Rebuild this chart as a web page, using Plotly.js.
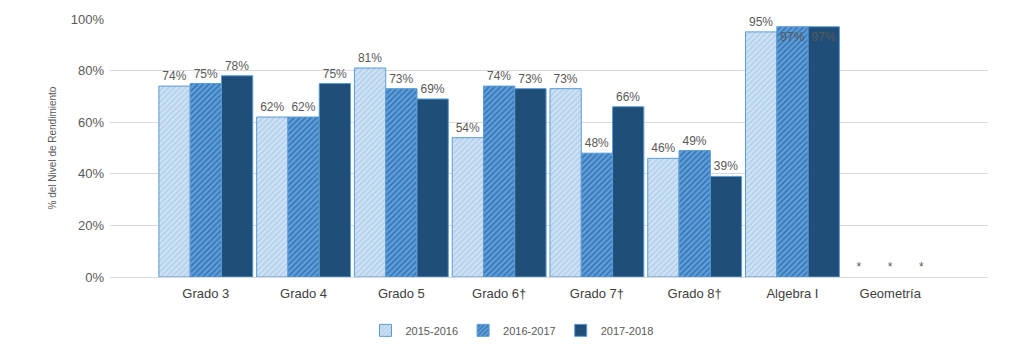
<!DOCTYPE html>
<html><head><meta charset="utf-8">
<script src="https://cdn.plot.ly/plotly-3.0.1.min.js"></script>
<style>html,body{margin:0;padding:0;background:#fff}#chart{width:1024px;height:349px}</style>
</head><body><div id="chart"></div>
<script>
const categories = ["Grado 3","Grado 4","Grado 5","Grado 6†","Grado 7†","Grado 8†","Algebra I","Geometría"];
const seriesNames = ["2015-2016","2016-2017","2017-2018"];
const v2015 = [74,62,81,54,73,46,95,0];
const v2016 = [75,62,73,74,48,49,97,0];
const v2017 = [78,75,69,73,66,39,97,0];
const lbl2015 = ["74%","62%","81%","54%","73%","46%","95%","*"];
const lbl2016 = ["75%","62%","73%","74%","48%","49%","97%","*"];
const lbl2017 = ["78%","75%","69%","73%","66%","39%","97%","*"];
const yTicks = [0,20,40,60,80,100];
const yTickText = ["0%","20%","40%","60%","80%","100%"];

function pos(vals){ return vals.map(v => v >= 97 ? "inside" : "outside"); }
function lw(vals){ return vals.map(v => v > 0 ? 1 : 0); }

const gray = "#595959";
const mk = (name, y, text, marker) => ({
  type: "bar", name, x: categories, y, text, textposition: pos(y),
  insidetextanchor: "end", constraintext: "none",
  textfont: {family: "Arial, Liberation Sans, sans-serif", size: 12, color: gray},
  outsidetextfont: {color: gray}, insidetextfont: {color: gray},
  cliponaxis: false, marker, hoverinfo: "skip"
});

const traces = [
  mk(seriesNames[0], v2015, lbl2015, {color: "#bdd7ee", line: {color: "#5b9bd5", width: lw(v2015)},
     pattern: {shape: "/", fgcolor: "#dceaf7", bgcolor: "#b8d3ee", size: 4, solidity: 0.3}}),
  mk(seriesNames[1], v2016, lbl2016, {color: "#5b9bd5", line: {color: "#5b9bd5", width: lw(v2016)},
     pattern: {shape: "/", fgcolor: "#2f6fb0", bgcolor: "#5f9ed8", size: 4, solidity: 0.35}}),
  mk(seriesNames[2], v2017, lbl2017, {color: "#1f4e79", line: {color: "#5b9bd5", width: lw(v2017)}})
];

const layout = {
  width: 1024, height: 349,
  margin: {l: 110, r: 36, t: 19, b: 72, autoexpand: false},
  paper_bgcolor: "#fff", plot_bgcolor: "#fff",
  font: {family: "Arial, Liberation Sans, sans-serif", color: gray},
  barmode: "group", bargap: 0.04, bargroupgap: 0,
  showlegend: true,
  legend: {orientation: "h", x: 0.5, xanchor: "center", xref: "container",
           yref: "container", y: 0.095, yanchor: "top",
           font: {size: 11, color: gray}, itemwidth: 30},
  xaxis: {type: "category", range: [-0.98, 8.0], showgrid: false, zeroline: false,
          showline: false, ticks: "", ticklabelstandoff: 7, tickfont: {size: 13, color: "#404040"}},
  yaxis: {range: [0, 100], tickvals: yTicks, ticktext: yTickText,
          showgrid: true, gridcolor: "#d9d9d9", gridwidth: 1, zeroline: true, zerolinecolor: "#d9d9d9",
          showline: false, ticks: "", ticklabelstandoff: 5, tickfont: {size: 13, color: gray},
          title: {text: "% del Nivel de Rendimiento", font: {size: 10, color: gray}, standoff: 12}}
};

Plotly.newPlot("chart", traces, layout, {displayModeBar: false, staticPlot: true});
</script></body></html>
